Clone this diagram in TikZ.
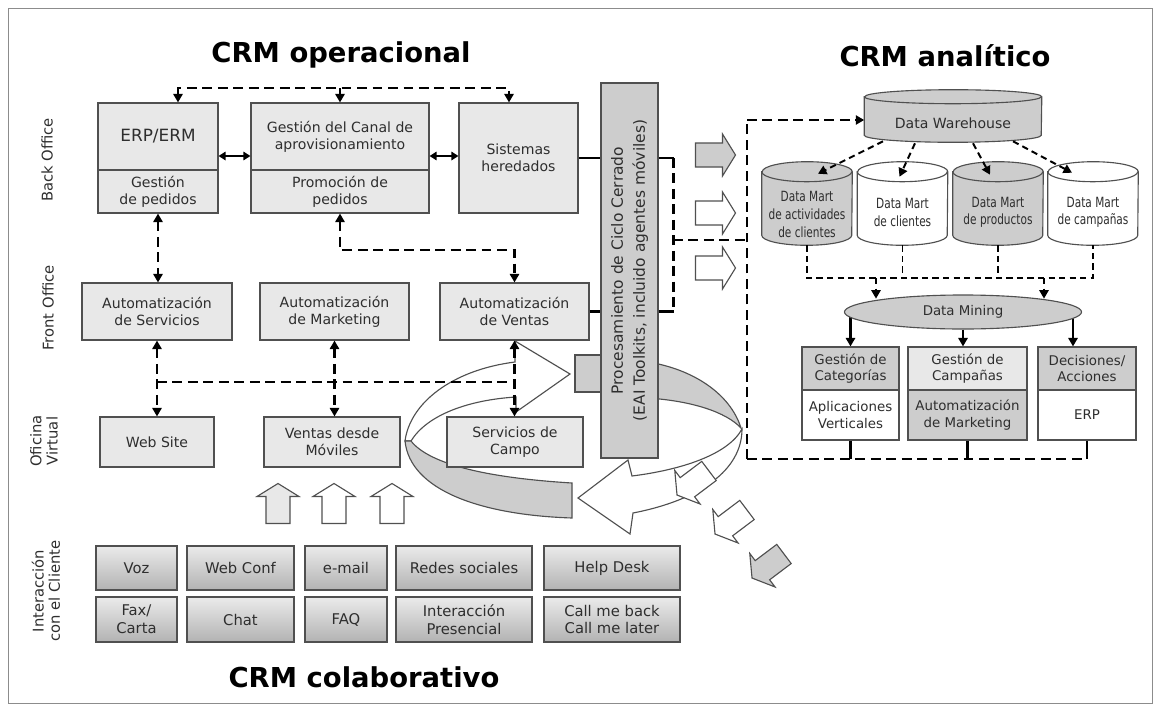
\documentclass[tikz,border=0pt]{standalone}
\usepackage{fontspec}
\setmainfont{DejaVu Sans}
\newfontfamily\martfont[FakeStretch=0.75]{DejaVu Sans}
\usetikzlibrary{calc,shapes.geometric,arrows.meta,backgrounds}

\definecolor{boxedge}{HTML}{505050}
\definecolor{lightfill}{HTML}{E8E8E8}
\definecolor{darkfill}{HTML}{CDCDCD}
\definecolor{ink}{HTML}{2E2E2E}

% cylinder body round a node: name, fill, x radius, y radius
\newcommand{\drum}[4]{%
  \draw[draw=boxedge, line width=0.8pt, fill=#2] (#1.north west) -- (#1.south west)
    arc[start angle=180, end angle=360, x radius=#3, y radius=#4]
    -- (#1.north east)
    arc[start angle=0, end angle=180, x radius=#3, y radius=#4] -- cycle;
  \draw[draw=boxedge, line width=0.8pt] (#1.north west)
    arc[start angle=180, end angle=360, x radius=#3, y radius=#4];
}
% hollow block arrow: x, y, angle, fill
\newcommand{\hollowarrow}[4]{%
  \filldraw[draw=boxedge, line width=0.8pt, fill=#4, shift={(#1,#2)}, rotate=#3]
    (-20,-12) -- (7,-12) -- (7,-21) -- (20,0) -- (7,21) -- (7,12) -- (-20,12) -- cycle;
}

\tikzset{ box/.style = { rectangle % box of the diagram
        , draw = boxedge
        , fill = lightfill
        , line width = 0.8pt
        , inner sep = 1pt
        , align = center
        , font = \fontsize{10}{12}\selectfont\color{ink}
        }
        , dbox/.style = { box % darker box
        , fill = darkfill
        }
        , wbox/.style = { box % white box
        , fill = white
        }
        , rbox/.style = { box % client interaction
        , top color = black!8
        , bottom color = black!30
        , font = \fontsize{10.5}{12.5}\selectfont\color{ink}
        }
        , martbody/.style = { rectangle % cylinder body
        , inner sep = 0pt
        , minimum width = 2.25cm
        , minimum height = 1.575cm
        }
        , mart/.style = { rectangle % data mart text
        , inner sep = 0pt
        , align = center
        , font = \martfont\fontsize{10}{12.5}\selectfont\color{ink}
        }
        , sidelbl/.style = { rotate = 90 % row label
        , align = center
        , font = \fontsize{10.5}{11.5}\selectfont\color{ink}
        }
        , crmtitle/.style = { anchor = base % big title
        , font = \fontsize{19.5}{23}\selectfont\bfseries
        }
        }

\begin{document}
\begin{tikzpicture}[x=0.025cm, y=-0.025cm,
        dashln/.style={draw=black, line width=1.8pt, dash pattern=on 7pt off 4pt},
        dotln/.style={draw=black, line width=1.4pt, dash pattern=on 4.5pt off 3pt},
        solidln/.style={draw=black, line width=1.8pt},
        onetip/.style={-{Triangle[length=6pt,width=6.5pt]}},
        twotips/.style={{Triangle[length=6pt,width=6.5pt]}-{Triangle[length=6pt,width=6.5pt]}},
        ringln/.style={draw=boxedge, line width=0.8pt}]
        \useasboundingbox (0,0) rectangle (1160,711);
        \draw[draw=black!45, line width=0.6pt] (8,8) rectangle (1152,703);

        % titles and row labels
        \node[crmtitle] (toper) at (341,62) {CRM operacional};
        \node[crmtitle] (tanal) at (945,66) {CRM analítico};
        \node[crmtitle] (tcolab) at (364,687) {CRM colaborativo};
        \node[sidelbl] (lback) at (47,160) {Back Office};
        \node[sidelbl] (lfront) at (48,308) {Front Office};
        \node[sidelbl] (lvirt) at (44,441) {Oficina\\Virtual};
        \node[sidelbl] (lclient) at (46,591) {Interacción\\con el Cliente};

        % back office
        \node[box, minimum width=3cm, minimum height=1.675cm, font=\fontsize{12}{14}\selectfont\color{ink}] (erp) at (158,136.5) {ERP/ERM};
        \node[box, minimum width=3cm, minimum height=1.075cm] (erpLow) at (158,191.5) {Gestión\\de pedidos};
        \node[box, minimum width=4.45cm, minimum height=1.675cm] (canal) at (340,136.5) {Gestión del Canal de\\aprovisionamiento};
        \node[box, minimum width=4.45cm, minimum height=1.075cm] (canalLow) at (340,191.5) {Promoción de\\pedidos};
        \node[box, minimum width=2.975cm, minimum height=2.75cm] (sist) at (518.5,158) {Sistemas\\heredados};

        % ring behind the bar
        \filldraw[ringln, fill=darkfill] (648,362) .. controls (692,369) and (730,393) .. (741,428) .. controls (726,412) and (692,401) .. (648,398) -- cycle;
        \filldraw[ringln, fill=darkfill] (575,355) rectangle (610,392);

        \node[dbox, minimum width=1.425cm, minimum height=9.375cm, font=\fontsize{11}{15.5}\selectfont\color{ink}] (bar) at (629.5,270.5)
            {\rotatebox{90}{\begin{tabular}{@{}c@{}}Procesamiento de Ciclo Cerrado\\(EAI Toolkits, incluido agentes móviles)\end{tabular}}};

        % ring in front
        \filldraw[ringln, fill=white] (405,441) .. controls (410,403) and (452,370) .. (515,362) -- (515,341) -- (570,374) -- (516,412) -- (516,397) .. controls (468,400) and (427,415) .. (411,441) -- cycle;
        \filldraw[ringln, fill=darkfill] (405,441) .. controls (410,490) and (480,515) .. (572,518) -- (572,483) .. controls (490,478) and (430,465) .. (411,441) -- cycle;
        \filldraw[ringln, fill=white] (578,498) -- (628,460) -- (632,476) .. controls (680,470) and (728,455) .. (742,429) .. controls (742,470) and (700,500) .. (633,513) -- (630,534) -- cycle;

        % front office and virtual office
        \node[box, minimum width=3.75cm, minimum height=1.425cm] (autServ) at (157,311.5) {Automatización\\de Servicios};
        \node[box, minimum width=3.725cm, minimum height=1.425cm] (autMkt) at (334.5,311.5) {Automatización\\de Marketing};
        \node[box, minimum width=3.725cm, minimum height=1.425cm] (autVent) at (514.5,311.5) {Automatización\\de Ventas};
        \node[box, minimum width=2.85cm, minimum height=1.25cm] (web) at (157,442) {Web Site};
        \node[box, minimum width=3.4cm, minimum height=1.25cm] (movil) at (332,442) {Ventas desde\\Móviles};
        \node[box, minimum width=3.4cm, minimum height=1.25cm] (campo) at (515,442) {Servicios de\\Campo};

        % client interaction
        \node[rbox, minimum width=2.025cm, minimum height=1.1cm] (voz) at (136.5,568) {Voz};
        \node[rbox, minimum width=2.675cm, minimum height=1.1cm] (wconf) at (240.5,568) {Web Conf};
        \node[rbox, minimum width=2.05cm, minimum height=1.1cm] (mail) at (346,568) {e-mail};
        \node[rbox, minimum width=3.4cm, minimum height=1.1cm] (redes) at (464,568) {Redes sociales};
        \node[rbox, minimum width=3.4cm, minimum height=1.1cm] (help) at (612,568) {Help Desk};
        \node[rbox, minimum width=2.025cm, minimum height=1.125cm] (fax) at (136.5,619.5) {Fax/\\Carta};
        \node[rbox, minimum width=2.675cm, minimum height=1.125cm] (chat) at (240.5,619.5) {Chat};
        \node[rbox, minimum width=2.05cm, minimum height=1.125cm] (faq) at (346,619.5) {FAQ};
        \node[rbox, minimum width=3.4cm, minimum height=1.125cm] (pres) at (464,619.5) {Interacción\\Presencial};
        \node[rbox, minimum width=3.4cm, minimum height=1.125cm] (call) at (612,619.5) {Call me back\\Call me later};

        % block arrows
        \hollowarrow{278}{503.5}{90}{lightfill}
        \hollowarrow{334}{503.5}{90}{white}
        \hollowarrow{392}{503.5}{90}{white}
        \hollowarrow{715.5}{155}{0}{darkfill}
        \hollowarrow{715.5}{213}{0}{white}
        \hollowarrow{715.5}{268}{0}{white}
        \hollowarrow{693}{483}{217}{white}
        \hollowarrow{731}{522}{217}{white}
        \hollowarrow{768}{566}{217}{darkfill}

        % analytic side
        \node[martbody, minimum width=4.425cm, minimum height=0.95cm] (dw) at (953,116) {};
        \node[mart, font=\fontsize{10}{12}\selectfont\color{ink}] (dwt) at ($(dw)+(0,7)$) {Data Warehouse};
        \node[martbody] (dm1) at (807,203.5) {};
        \node[martbody] (dm2) at (902.5,203.5) {};
        \node[martbody] (dm3) at (998,203.5) {};
        \node[martbody] (dm4) at (1093,203.5) {};
        \node[mart] (dm1t) at ($(dm1)+(0,11)$) {Data Mart\\de actividades\\de clientes};
        \node[mart] (dm2t) at ($(dm2)+(0,9)$) {Data Mart\\de clientes};
        \node[mart] (dm3t) at ($(dm3)+(0,9)$) {Data Mart\\de productos};
        \node[mart] (dm4t) at ($(dm4)+(0,9)$) {Data Mart\\de campañas};
        \begin{scope}[on background layer]
            \drum{dw}{darkfill}{2.2125cm}{0.175cm}
            \drum{dm1}{darkfill}{1.125cm}{0.25cm}
            \drum{dm2}{white}{1.125cm}{0.25cm}
            \drum{dm3}{darkfill}{1.125cm}{0.25cm}
            \drum{dm4}{white}{1.125cm}{0.25cm}
        \end{scope}

        \node[ellipse, draw=boxedge, fill=darkfill, line width=0.8pt, minimum width=5.925cm, minimum height=0.85cm, inner sep=0pt,
            font=\fontsize{9.5}{11}\selectfont\color{ink}] (mining) at (963,312) {Data Mining};
        \node[dbox, minimum width=2.425cm, minimum height=1.075cm, font=\fontsize{9.5}{11.5}\selectfont\color{ink}] (cat) at (850.5,368.5) {Gestión de\\Categorías};
        \node[wbox, minimum width=2.425cm, minimum height=1.25cm, font=\fontsize{9.5}{11.5}\selectfont\color{ink}] (catLow) at (850.5,415) {Aplicaciones\\Verticales};
        \node[box, minimum width=2.975cm, minimum height=1.075cm, font=\fontsize{9.5}{11.5}\selectfont\color{ink}] (camp) at (967.5,368.5) {Gestión de\\Campañas};
        \node[dbox, minimum width=2.975cm, minimum height=1.25cm, font=\fontsize{9.5}{11.5}\selectfont\color{ink}] (campLow) at (967.5,415) {Automatización\\de Marketing};
        \node[dbox, minimum width=2.45cm, minimum height=1.075cm, font=\fontsize{9.5}{11.5}\selectfont\color{ink}] (dec) at (1087,368.5) {Decisiones/\\Acciones};
        \node[wbox, minimum width=2.45cm, minimum height=1.25cm, font=\fontsize{9.5}{11.5}\selectfont\color{ink}] (decLow) at (1087,415) {ERP};

        % connectors, operational side
        \coordinate (t1) at (178,88);
        \coordinate (t3) at (509,88);
        \coordinate (dbl) at (0,156);
        \coordinate (g1) at (340,250);
        \coordinate (h1) at (0,382);
        \draw[dashln, twotips] (t1 |- erp.north) -- (t1) -- (t3) -- (t3 |- sist.north);
        \draw[dashln, onetip] (canal.north |- t1) -- (canal.north);
        \draw[solidln, {Triangle[length=5pt,width=6pt]}-{Triangle[length=5pt,width=6pt]}] (erp.east |- dbl) -- (canal.west |- dbl);
        \draw[solidln, {Triangle[length=5pt,width=6pt]}-{Triangle[length=5pt,width=6pt]}] (canal.east |- dbl) -- (sist.west |- dbl);
        \draw[solidln] (sist.east) -- (sist.east -| bar.west);
        \draw[solidln] (autVent.east) -- (autVent.east -| bar.west);
        \draw[dashln, twotips] (erpLow.south) -- (erpLow.south |- autServ.north);
        \draw[dashln, twotips] (canalLow.south) -- (g1) -| (autVent.north);
        \draw[dashln, twotips] (autServ.south) -- (autServ.south |- web.north);
        \draw[dashln, twotips] (autMkt.south) -- (autMkt.south |- movil.north);
        \draw[dashln, twotips] (autVent.south) -- (autVent.south |- campo.north);
        \draw[dashln] (autServ.south |- h1) -- (autVent.south |- h1);

        % connectors, analytic side
        \coordinate (bigT) at (747,120);
        \coordinate (bigB) at (747,459);
        \coordinate (j3) at (673,240);
        \coordinate (m1) at (0,278);
        \coordinate (m2) at (876,278);
        \coordinate (m3) at (1044,278);
        \coordinate (m4) at (1073,312);
        \draw[solidln] (bar.east |- sist.east) -- ++(15,0) coordinate (j1);
        \draw[solidln] (bar.east |- autVent.east) -- ++(15,0) coordinate (j2);
        \draw[dashln] (j1) -- (j2);
        \draw[dashln] (j3) -- (j3 -| bigT);
        \draw[dashln] (bigB) -- (bigT);
        \draw[dashln, onetip] (bigT) -- (bigT -| dw.west);
        \draw[dashln] (bigB) -- (bigB -| decLow.south);
        \draw[solidln] (catLow.south) -- (catLow.south |- bigB);
        \draw[solidln] (campLow.south) -- (campLow.south |- bigB);
        \draw[solidln] (decLow.south) -- (decLow.south |- bigB);

        \draw[dotln, onetip] ($(dw.south)+(-70,6)$) -- ($(dm1.north)+(11,2)$);
        \draw[dotln, onetip] ($(dw.south)+(-38,8)$) -- ($(dm2.north)+(-3,5)$);
        \draw[dotln, onetip] ($(dw.south)+(20,8)$) -- ($(dm3.north)+(-8,3)$);
        \draw[dotln, onetip] ($(dw.south)+(60,6)$) -- ($(dm4.north)+(-21,1)$);
        \draw[dotln] ([yshift=-0.25cm]dm1.south) -- (dm1.south |- m1) -- (dm4.south |- m1) -- ([yshift=-0.25cm]dm4.south);
        \draw[dotln] ([yshift=-0.25cm]dm2.south) -- (dm2.south |- m1);
        \draw[dotln] ([yshift=-0.25cm]dm3.south) -- (dm3.south |- m1);
        \draw[dotln, onetip, shorten >=-3pt] (m2) -- (m2 |- mining.north);
        \draw[dotln, onetip, shorten >=-3pt] (m3) -- (m3 |- mining.north);
        \begin{scope}[on background layer]
            \draw[solidln, onetip] (cat.north |- mining.center) -- (cat.north);
            \draw[solidln, onetip] (m4) -- (m4 |- dec.north);
        \end{scope}
        \draw[solidln, onetip] (mining.south) -- (mining.south |- camp.north);
\end{tikzpicture}
\end{document}
